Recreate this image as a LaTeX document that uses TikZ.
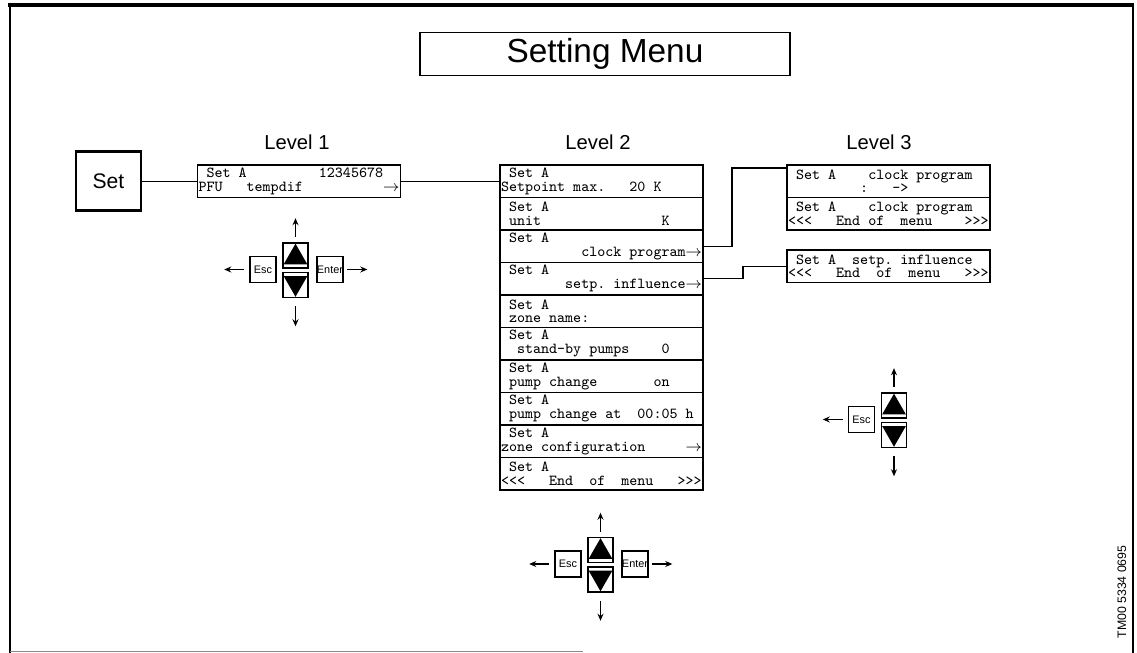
\documentclass[tikz,border=0pt]{standalone}
\usepackage{fontspec}
\setmainfont{Liberation Sans}
\usepackage{xcolor}
\usepackage{tikz}
\usetikzlibrary{arrows.meta}
\definecolor{SMGray}{HTML}{8A8A8A}
% display font: every ~ is one character cell
\newcommand{\dispfont}{\ttfamily\fontsize{8.7}{7.8}\selectfont\def~{\hphantom{0}}}
\newcommand{\rarr}{\makebox[4.57pt][l]{$\rightarrow$}}
\tikzset{
  disp/.style={draw,line width=0.7pt,minimum height=0.65cm,inner xsep=0.02cm,inner ysep=0pt,text width=4.02cm,align=left,font=\dispfont},
  keybox/.style={draw,line width=0.9pt,minimum size=0.52cm,inner sep=0pt,font=\fontsize{6.2}{7}\selectfont},
  updown/.style={draw,line width=0.9pt,minimum size=0.5cm,inner sep=0pt},
  keyarrow/.style={line width=0.6pt,-{Stealth[length=4pt,width=3.4pt]}},
  wire/.style={line width=0.7pt},
  level/.style={font=\fontsize{11.5}{13}\selectfont},
}

\begin{document}
\begin{tikzpicture}[x=1cm,y=1cm]
\path[use as bounding box] (0,0) rectangle (22.74,13.06);
% frame
\draw[line width=2.3pt] (0.16,12.96) -- (22.66,12.96);
\draw[line width=1.7pt] (0.2,13.0) -- (0.2,0);
\draw[line width=1.1pt] (22.66,13.0) -- (22.66,0);
\draw[SMGray,line width=0.8pt] (0.2,0.03) -- (11.66,0.03);
\node[draw,line width=0.8pt,minimum width=7.4cm,minimum height=0.76cm,font=\fontsize{19}{22}\selectfont] (title) at (12.1,11.98) {Setting Menu};
\node[level] (lev1) at (5.94,10.22) {Level 1};
\node[level] (lev2) at (11.96,10.22) {Level 2};
\node[level] (lev3) at (17.58,10.22) {Level 3};
% level 1
\node[draw,line width=1.5pt,minimum width=1.3cm,minimum height=1.18cm,font=\fontsize{12}{14}\selectfont] (setkey) at (2.17,9.435) {Set};
\node[disp] (l1disp) at (5.98,9.435) {\mbox{~Set~A~~~~~~~~~12345678}\\\mbox{PFU~~~tempdif~~~~~~~~~~\rarr}};
% level 2
\node[disp] (setpoint) at (12.03,9.435) {\mbox{~Set~A}\\\mbox{Setpoint~max.~~~20~K}};
\node[disp] (unit) at (12.03,8.785) {\mbox{~Set~A}\\\mbox{~unit~~~~~~~~~~~~~~~K}};
\node[disp] (clockprg) at (12.03,8.135) {\mbox{~Set~A}\\\mbox{~~~~~~~~~~clock~program\rarr}};
\node[disp] (setpinfl) at (12.03,7.485) {\mbox{~Set~A}\\\mbox{~~~~~~~~setp.~influence\rarr}};
\node[disp] (zonename) at (12.03,6.835) {\mbox{~Set~A}\\\mbox{~zone~name:}};
\node[disp] (standby) at (12.03,6.185) {\mbox{~Set~A}\\\mbox{~~stand-by~pumps~~~~0}};
\node[disp] (pumpchg) at (12.03,5.535) {\mbox{~Set~A}\\\mbox{~pump~change~~~~~~~on}};
\node[disp] (pumpat) at (12.03,4.885) {\mbox{~Set~A}\\\mbox{~pump~change~at~~00:05~h}};
\node[disp] (zonecfg) at (12.03,4.235) {\mbox{~Set~A}\\\mbox{zone~configuration~~~~~\rarr}};
\node[disp] (endmenu) at (12.03,3.585) {\mbox{~Set~A}\\\mbox{<<<~~~End~~of~~menu~~~>>>}};
% level 3
\node[disp] (clockA) at (17.77,9.435) {\mbox{~Set~A~~~~clock~program}\\\mbox{~~~~~~~~~:~~~->}};
\node[disp] (clockB) at (17.77,8.785) {\mbox{~Set~A~~~~clock~program}\\\mbox{<<<~~~End~of~~menu~~~~>>>}};
\node[disp] (inflA) at (17.77,7.735) {\mbox{~Set~A~~setp.~influence}\\\mbox{<<<~~~End~~of~~menu~~~>>>}};
% connections
\coordinate (k1) at (14.64,9.70);
\coordinate (k2) at (14.86,7.735);
\draw[wire] (setkey) -- (l1disp);
\draw[wire] (l1disp) -- (setpoint);
\draw[wire] (clockprg.east) -| (k1) -- (k1 -| clockA.west);
\draw[wire] (setpinfl.east) -| (k2) -- (inflA.west);
% keys
\foreach \k/\px/\py in {a/5.91/7.95,b/12.01/2.06,c/17.88/4.95}{
  \node[updown] (up\k) at (\px,\py) {};
  \node[updown] (dn\k) at (\px,\py-0.59) {};
  \node[keybox] (esc\k) at (\px-0.65,\py-0.28) {Esc};
  \fill ([shift={(0.03,0.09)}]up\k.south west) -- ([shift={(-0.03,0.09)}]up\k.south east) -- ([yshift=-0.03cm]up\k.north) -- cycle;
  \fill ([shift={(0.03,-0.09)}]dn\k.north west) -- ([shift={(-0.03,-0.09)}]dn\k.north east) -- ([yshift=0.03cm]dn\k.south) -- cycle;
  \draw[keyarrow] ([yshift=0.1cm]up\k.north) -- ++(0,0.38);
  \draw[keyarrow] ([yshift=-0.16cm]dn\k.south) -- ++(0,-0.4);
  \draw[keyarrow] ([xshift=-0.1cm]esc\k.west) -- ++(-0.4,0);
}
\foreach \k/\px/\py in {a/5.91/7.95,b/12.01/2.06}{
  \node[keybox] (ent\k) at (\px+0.69,\py-0.28) {Enter};
  \draw[keyarrow] ([xshift=0.07cm]ent\k.east) -- ++(0.4,0);
}
\node[rotate=90,font=\fontsize{7}{8}\selectfont] (tmcode) at (22.44,1.22) {TM00 5334 0695};
\end{tikzpicture}
\end{document}
